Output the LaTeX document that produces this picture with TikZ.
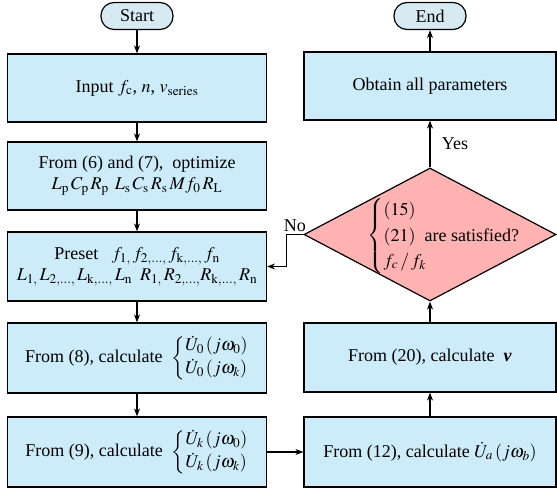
\documentclass[tikz,border=0pt]{standalone}
\usepackage{amsmath}
\usepackage{mathptmx}
\usepackage{fontspec}
\setmainfont{Liberation Serif}
\usetikzlibrary{arrows.meta, shapes.geometric, positioning}

\definecolor{boxblue}{RGB}{204,236,249}
\definecolor{termblue}{RGB}{214,234,242}
\definecolor{decred}{RGB}{255,178,178}

\begin{document}
\begin{tikzpicture}[x=1pt, y=-1pt, >={Stealth[length=8pt, width=6pt]}, line width=1.2pt,
    every node/.style={font=\fontsize{18}{21}\selectfont},
    term/.style={draw, fill=termblue, rounded corners=13pt, minimum width=72pt, minimum height=27pt, inner sep=0pt},
    procbox/.style={draw, fill=boxblue, minimum height=68pt, inner sep=2pt, align=center},
    leftbox/.style={procbox, minimum width=259pt},
    rightbox/.style={procbox, minimum width=252pt},
    decision/.style={draw, fill=decred, diamond, aspect=1.9, minimum width=252pt, minimum height=133pt, inner sep=0pt},
    flow/.style={->}]
    \useasboundingbox (0,0) rectangle (557,489);

    % left column
    \node[term] (start) at (137,16) {Start};
    \node[leftbox] (input) at (137,88) {Input $f_\mathrm{c}$, $n$, $v_\mathrm{series}$};
    \node[leftbox] (optim) at (137,176) {From (6) and (7), \ optimize\\
        $L_\mathrm{p}\,C_\mathrm{p}\,R_\mathrm{p}\;\,L_\mathrm{s}\,C_\mathrm{s}\,R_\mathrm{s}\,M f_0\,R_\mathrm{L}$};
    \node[leftbox, minimum height=69pt] (preset) at (137,266.5) {Preset \ \ $f_{1,}\,f_{2,\ldots,}\,f_{\mathrm{k},\ldots,}\,f_\mathrm{n}$\\
        $L_{1,}\,L_{2,\ldots,}\,L_{\mathrm{k},\ldots,}\,L_\mathrm{n}\;\;R_{1,}\,R_{2,\ldots,}R_{\mathrm{k},\ldots,}\,R_\mathrm{n}$};
    \node[leftbox, minimum height=70pt] (calcUzero) at (137,358) {From (8), calculate \
        $\left\{\begin{array}{@{}l@{}}\dot{U}_0\left(j\omega_0\right)\\[2pt] \dot{U}_0\left(j\omega_k\right)\end{array}\right.$};
    \node[leftbox, minimum height=70pt] (calcUk) at (137,452) {From (9), calculate \
        $\left\{\begin{array}{@{}l@{}}\dot{U}_k\left(j\omega_0\right)\\[2pt] \dot{U}_k\left(j\omega_k\right)\end{array}\right.$};

    % right column
    \node[term] (end) at (430,16) {End};
    \node[rightbox] (obtain) at (430,86) {Obtain all parameters};
    \node[decision] (check) at (430,234.5) {};
    \node (checktext) at (453,236) {$\begin{cases}(15)\\ (21)\ \ \text{are satisfied?}\\ f_c\,/\,f_k\end{cases}$};
    \node[rightbox, minimum height=69pt] (calcv) at (430,357.5) {From (20), calculate \ \textbf{\textit{v}}};
    \node[rightbox, minimum height=70pt] (calcUa) at (430,452) {From (12), calculate $\dot{U}_a\left(j\omega_b\right)$};

    % connectors
    \draw[flow] (start) -- (input);
    \draw[flow] (input) -- (optim);
    \draw[flow] (optim) -- (preset);
    \draw[flow] (preset) -- (calcUzero);
    \draw[flow] (calcUzero) -- (calcUk);
    \draw[flow] (calcUk) -- (calcUa);
    \draw[flow] (calcUa) -- (calcv);
    \draw[flow] (calcv) -- (check);
    \draw[flow] (check) -- node[right=8pt] {Yes} (obtain);
    \draw[flow] (obtain) -- (end);
    \draw[flow] (check.west) -- node[above, inner sep=2pt] {No} ++(-17,0) |- (preset.east);
\end{tikzpicture}
\end{document}
